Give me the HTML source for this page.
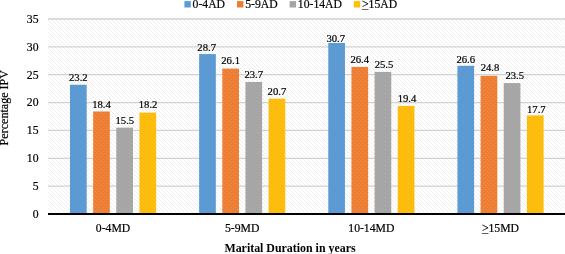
<!DOCTYPE html>
<html><head><meta charset="utf-8"><style>
html,body{margin:0;padding:0;background:#fff;width:565px;height:254px;overflow:hidden}
svg{display:block;will-change:transform}
text{font-family:"Liberation Serif",serif;fill:#000;stroke:#000;stroke-width:0.2px}
</style></head><body>
<svg width="565" height="254" viewBox="0 0 565 254">
<defs>
<pattern id="hatch" patternUnits="userSpaceOnUse" x="0" y="0" width="4" height="4"><rect x="0" y="0" width="1" height="1" fill="#efefef"/><rect x="1" y="1" width="1" height="1" fill="#efefef"/><rect x="2" y="2" width="1" height="1" fill="#efefef"/><rect x="3" y="3" width="1" height="1" fill="#efefef"/></pattern>
<pattern id="pb" patternUnits="userSpaceOnUse" width="8" height="8"><rect width="8" height="8" fill="#5b9bd5"/><rect x="6" y="1" width="1" height="1" fill="#8a8d96"/><rect x="2" y="5" width="1" height="1" fill="#8a8d96"/></pattern>
<pattern id="po" patternUnits="userSpaceOnUse" width="4" height="4"><rect width="4" height="4" fill="#ed7d31"/><rect x="1" y="1" width="1" height="1" fill="#f0925a"/><rect x="3" y="3" width="1" height="1" fill="#ef8c52"/></pattern>
<pattern id="pg" patternUnits="userSpaceOnUse" width="4" height="4"><rect width="4" height="4" fill="#a5a5a5"/><rect x="1" y="1" width="1" height="1" fill="#b0b0b0"/><rect x="3" y="3" width="1" height="1" fill="#adadad"/></pattern>
<pattern id="py" patternUnits="userSpaceOnUse" width="4" height="4"><rect width="4" height="4" fill="#ffc000"/><rect x="1" y="1" width="1" height="1" fill="#eea070"/><rect x="3" y="3" width="1" height="1" fill="#f0a86a"/></pattern>
</defs>

<rect x="48.0" y="19.0" width="517.0" height="195.0" fill="url(#hatch)"/>
<g stroke="#d2d2d2" stroke-width="1.3">
<line x1="48.0" x2="565.0" y1="186.14" y2="186.14"/>
<line x1="48.0" x2="565.0" y1="158.28" y2="158.28"/>
<line x1="48.0" x2="565.0" y1="130.42" y2="130.42"/>
<line x1="48.0" x2="565.0" y1="102.56" y2="102.56"/>
<line x1="48.0" x2="565.0" y1="74.70" y2="74.70"/>
<line x1="48.0" x2="565.0" y1="46.84" y2="46.84"/>
<line x1="48.0" x2="565.0" y1="18.98" y2="18.98"/>
</g>
<rect x="69.98" y="84.73" width="16.7" height="129.27" fill="url(#pb)"/>
<rect x="93.13" y="111.48" width="16.7" height="102.52" fill="url(#po)"/>
<rect x="116.28" y="127.63" width="16.7" height="86.37" fill="url(#pg)"/>
<rect x="139.43" y="112.59" width="16.7" height="101.41" fill="url(#py)"/>
<rect x="199.13" y="54.08" width="16.7" height="159.92" fill="url(#pb)"/>
<rect x="222.28" y="68.57" width="16.7" height="145.43" fill="url(#po)"/>
<rect x="245.43" y="81.94" width="16.7" height="132.06" fill="url(#pg)"/>
<rect x="268.57" y="98.66" width="16.7" height="115.34" fill="url(#py)"/>
<rect x="328.27" y="42.94" width="16.7" height="171.06" fill="url(#pb)"/>
<rect x="351.43" y="66.90" width="16.7" height="147.10" fill="url(#po)"/>
<rect x="374.57" y="71.91" width="16.7" height="142.09" fill="url(#pg)"/>
<rect x="397.73" y="105.90" width="16.7" height="108.10" fill="url(#py)"/>
<rect x="457.43" y="65.78" width="16.7" height="148.22" fill="url(#pb)"/>
<rect x="480.58" y="75.81" width="16.7" height="138.19" fill="url(#po)"/>
<rect x="503.73" y="83.06" width="16.7" height="130.94" fill="url(#pg)"/>
<rect x="526.88" y="115.38" width="16.7" height="98.62" fill="url(#py)"/>
<line x1="48.0" x2="565.0" y1="214.0" y2="214.0" stroke="#000" stroke-width="2.1"/>
<g font-size="10.7" text-anchor="middle"><text x="78.33" y="81">23.2</text><text x="101.48" y="108">18.4</text><text x="124.83" y="124">15.5</text><text x="148.08" y="108">18.2</text><text x="206.68" y="51">28.7</text><text x="230.63" y="64">26.1</text><text x="253.78" y="78">23.7</text><text x="276.93" y="95">20.7</text><text x="335.73" y="41.6">30.7</text><text x="359.78" y="63">26.4</text><text x="384.03" y="68">25.5</text><text x="406.98" y="102">19.4</text><text x="465.78" y="63">26.6</text><text x="490.03" y="71">24.8</text><text x="514.78" y="79">23.5</text><text x="536.33" y="113">17.7</text></g>
<g font-size="11.7" text-anchor="end">
<text x="38.5" y="217.90">0</text>
<text x="38.5" y="190.04">5</text>
<text x="38.5" y="162.18">10</text>
<text x="38.5" y="134.32">15</text>
<text x="38.5" y="106.46">20</text>
<text x="38.5" y="78.60">25</text>
<text x="38.5" y="50.74">30</text>
<text x="38.5" y="22.88">35</text>
</g>
<g font-size="11.7" text-anchor="middle">
<text x="113.05" y="232.0">0-4MD</text>
<text x="242.20" y="232.0">5-9MD</text>
<text x="371.35" y="232.0">10-14MD</text>
<text x="500.50" y="232.0">&gt;15MD</text>
</g>
<line x1="481.92" x2="488.52" y1="233.5" y2="233.5" stroke="#333" stroke-width="0.8"/>
<text x="290" y="251.7" font-size="11.9" font-weight="bold" style="stroke-width:0" text-anchor="middle">Marital Duration in years</text>
<text transform="translate(8.1,107.7) rotate(-90)" font-size="12.1" text-anchor="middle">Percentage IPV</text>
<rect x="184.4" y="1.1" width="6.4" height="6.4" fill="#5b9bd5"/>
<text x="192.6" y="7.7" font-size="11.7">0-4AD</text>
<rect x="237.0" y="1.1" width="6.4" height="6.4" fill="#ed7d31"/>
<text x="245.2" y="7.7" font-size="11.7">5-9AD</text>
<rect x="289.6" y="1.1" width="6.4" height="6.4" fill="#a5a5a5"/>
<text x="297.8" y="7.7" font-size="11.7">10-14AD</text>
<rect x="353.8" y="1.1" width="6.4" height="6.4" fill="#ffc000"/>
<text x="362.0" y="7.7" font-size="11.7">&gt;15AD</text>
<line x1="362.00" x2="368.60" y1="9.5" y2="9.5" stroke="#444" stroke-width="0.8"/>
</svg>
</body></html>
